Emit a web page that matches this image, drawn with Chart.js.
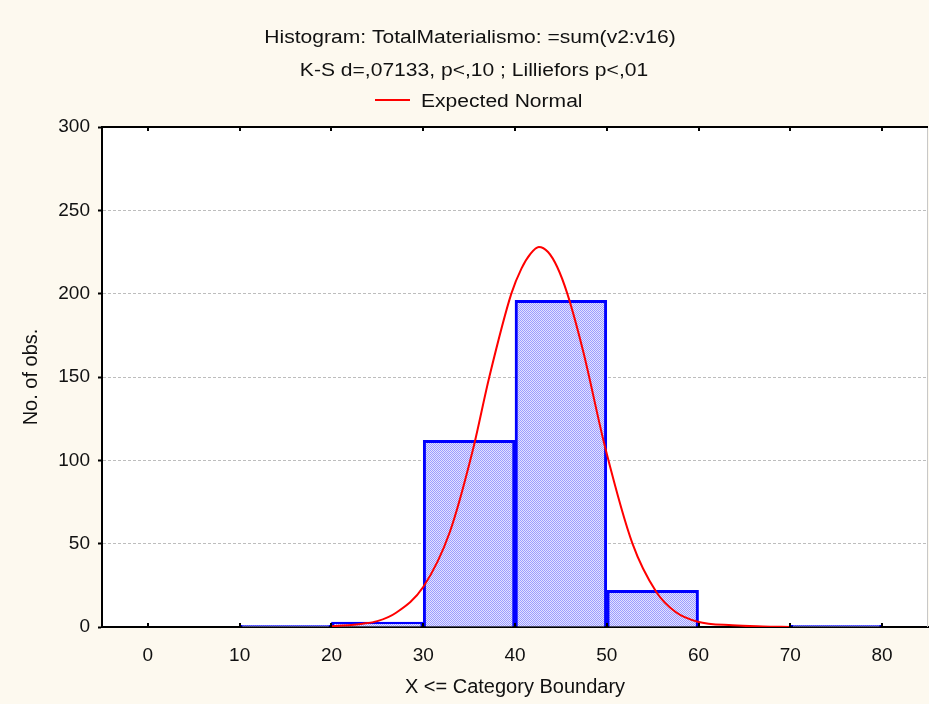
<!DOCTYPE html>
<html lang="en">
<head>
  <meta charset="UTF-8" />
  <title>Histogram TotalMaterialismo</title>
  <script src="https://cdn.jsdelivr.net/npm/chart.js"></script>
  <style>
    body { margin: 0; background: #fdf9ef; }
    canvas { display: block; }
  </style>
</head>
<body>
  <canvas id="histChart" width="929" height="704"></canvas>

  <script>
    // histogram bins (centre of each 10-wide class) and counts
    const binCenters = [15, 25, 35, 45, 55, 65, 75];
    const binCounts = [1, 3, 112, 196, 22, 0, 1];

    // expected normal curve
    const normalX = [20, 23.4, 25, 27, 30, 32.9, 35.4, 37.2, 39.6, 40.7, 41.7, 42.6, 43.6, 44.6, 45.7, 47.4, 49.9, 52.8, 55.4, 57.5, 59.9, 63.7, 67, 70];
    const normalY = [0.4, 2, 3.5, 8.4, 24, 57, 106, 150, 200, 215, 224, 228, 225, 216, 200, 166, 106, 50, 21, 9, 3.2, 1, 0.3, 0];

    const xTicks = [0, 10, 20, 30, 40, 50, 60, 70, 80];
    const yTicks = [0, 50, 100, 150, 200, 250, 300];

    const titleLines = [
      "Histogram: TotalMaterialismo: =sum(v2:v16)",
      "K-S d=,07133, p<,10 ; Lilliefors p<,01"
    ];
    const legendText = "Expected Normal";

    const FONT = '"Liberation Sans", Arial, sans-serif';

    // dotted blue fill like the original
    function makePattern() {
      const c = document.createElement("canvas");
      c.width = 2; c.height = 2;
      const g = c.getContext("2d");
      g.fillStyle = "#e2e2ff"; g.fillRect(0, 0, 2, 2);
      g.fillStyle = "#9c9cff"; g.fillRect(0, 0, 1, 1); g.fillRect(1, 1, 1, 1);
      return g.createPattern(c, "repeat");
    }

    // the original text is drawn a bit wider than Arial
    function wideText(ctx, text, x, y) {
      ctx.save();
      ctx.translate(x, y);
      ctx.scale(1.17, 1);
      ctx.fillText(text, 0, 0);
      ctx.restore();
    }

    const framePlugin = {
      id: "frame",
      beforeDraw(chart) {
        const { ctx, chartArea: a } = chart;
        ctx.save();
        ctx.fillStyle = "#ffffff";
        ctx.fillRect(a.left, a.top, a.right - a.left, a.bottom - a.top);
        ctx.restore();
      },
      afterDraw(chart) {
        const { ctx, chartArea: a } = chart;
        const x = chart.scales.x;
        function line(x1, y1, x2, y2) {
          ctx.beginPath(); ctx.moveTo(x1, y1); ctx.lineTo(x2, y2); ctx.stroke();
        }
        ctx.save();
        ctx.strokeStyle = "#c8c8c8";
        ctx.lineWidth = 1;
        line(a.right - 0.5, a.top, a.right - 0.5, a.bottom);
        ctx.strokeStyle = "#000";
        ctx.lineWidth = 2;
        line(a.left - 1, a.top, a.right, a.top);
        x.ticks.forEach(t => {
          const px = Math.round(x.getPixelForValue(t.value));
          line(px, a.bottom, px, a.bottom - 4);
          line(px, a.top, px, a.top + 4);
        });

        // titles + legend
        ctx.fillStyle = "#111";
        ctx.font = "18px " + FONT;
        ctx.textAlign = "center";
        ctx.textBaseline = "alphabetic";
        wideText(ctx, titleLines[0], 470, 43);
        wideText(ctx, titleLines[1], 474, 76);
        ctx.strokeStyle = "#ff0000";
        ctx.lineWidth = 2;
        line(375, 100, 410, 100);
        ctx.textAlign = "left";
        wideText(ctx, legendText, 421, 107);
        ctx.restore();
      }
    };

    const ctx = document.getElementById("histChart").getContext("2d");

    new Chart(ctx, {
      type: "bar",
      data: {
        datasets: [
          {
            type: "line",
            label: legendText,
            data: normalX.map((v, i) => ({ x: v, y: normalY[i] })),
            borderColor: "#ff0000",
            borderWidth: 2,
            pointRadius: 0,
            fill: false,
            cubicInterpolationMode: "monotone",
            order: 0
          },
          {
            type: "bar",
            label: "No. of obs.",
            data: binCenters.map((v, i) => ({ x: v, y: binCounts[i] })),
            backgroundColor: makePattern(),
            borderColor: "#0000ff",
            borderWidth: 3,
            borderSkipped: "bottom",
            barPercentage: 1,
            categoryPercentage: 1,
            order: 1
          }
        ]
      },
      options: {
        responsive: false,
        animation: false,
        layout: { padding: { top: 127, right: 1, left: 0, bottom: 0 } },
        plugins: {
          legend: { display: false },
          tooltip: { enabled: false },
          title: { display: false }
        },
        scales: {
          x: {
            type: "linear",
            min: -5,
            max: 85,
            offset: false,
            afterBuildTicks: s => { s.ticks = xTicks.map(v => ({ value: v })); },
            afterFit: s => { s.height = 77; },
            grid: { display: false },
            border: { color: "#000", width: 2 },
            ticks: { color: "#111", font: { family: FONT, size: 19 }, padding: 9, maxRotation: 0 },
            title: {
              display: true,
              text: "X <= Category Boundary",
              color: "#111",
              font: { family: FONT, size: 20 },
              padding: { top: 0, bottom: 5 }
            }
          },
          y: {
            min: 0,
            max: 300,
            afterBuildTicks: s => { s.ticks = yTicks.map(v => ({ value: v })); },
            afterFit: s => { s.width = 102; },
            grid: {
              color: c => (c.tick && (c.tick.value === 0 || c.tick.value === 300)) ? "rgba(0,0,0,0)" : "#bdbdbd",
              drawTicks: true,
              tickLength: 4,
              tickColor: "#000",
              tickWidth: 2
            },
            border: { color: "#000", width: 2, dash: [3, 2] },
            ticks: { color: "#111", font: { family: FONT, size: 19 }, padding: 8 },
            title: {
              display: true,
              text: "No. of obs.",
              color: "#111",
              font: { family: FONT, size: 20 },
              padding: { top: 19, bottom: 0 }
            }
          }
        }
      },
      plugins: [framePlugin]
    });
  </script>
</body>
</html>
